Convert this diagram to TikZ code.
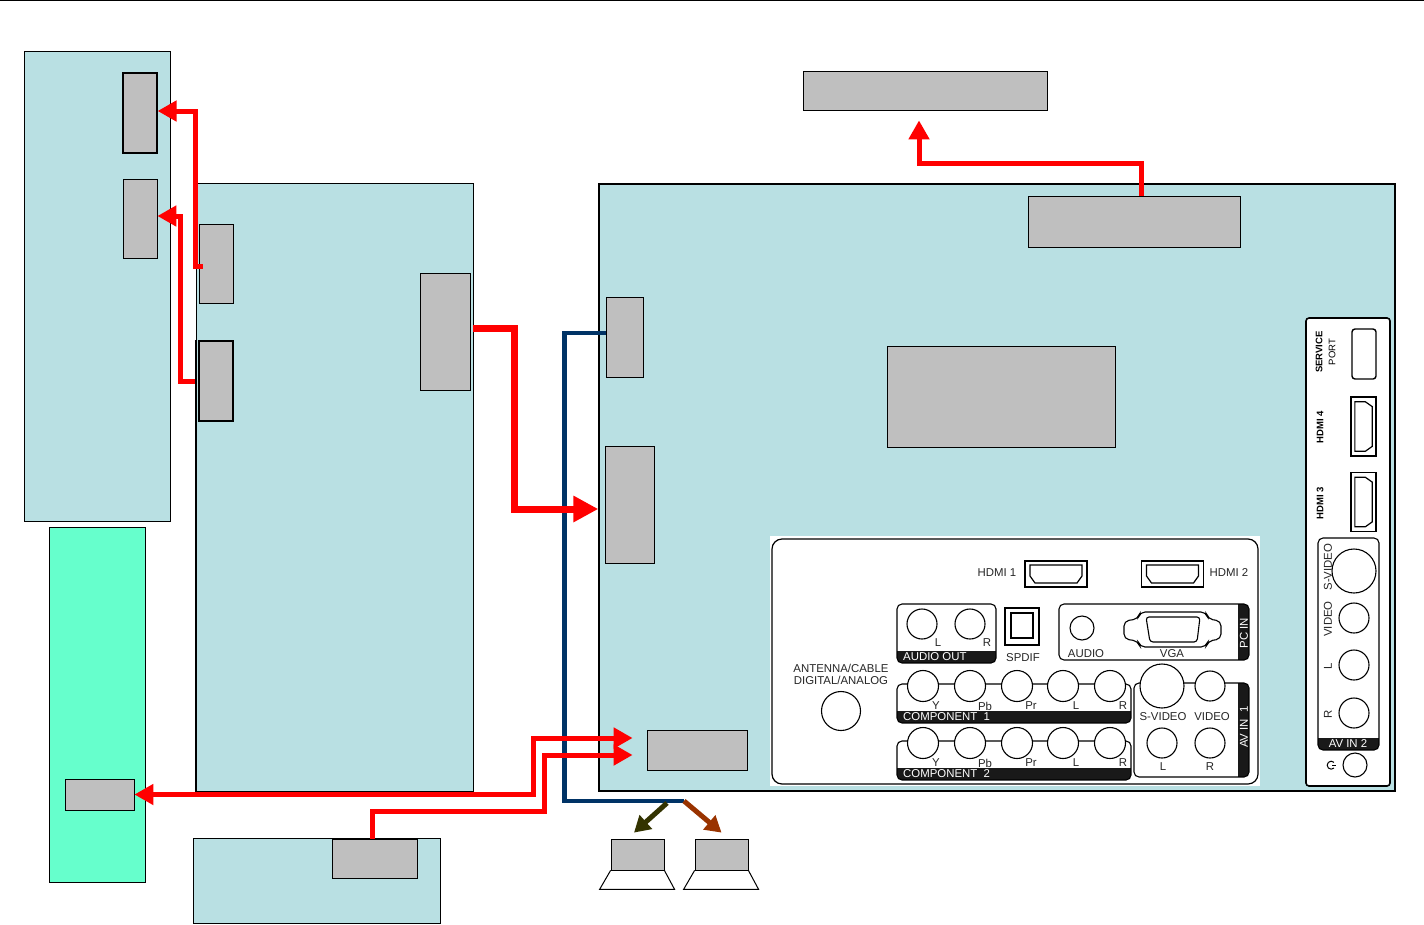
\documentclass[tikz,border=0pt]{standalone}
\usepackage{fontspec}
\setmainfont{Liberation Sans}
\usetikzlibrary{arrows.meta,positioning,calc}
\newcommand{\portbox}[6]{%
  \fill[white,rounded corners=5pt] (#1,#2) rectangle (#3,#4);
  \begin{scope}\clip[rounded corners=5pt] (#1,#2) rectangle (#3,#4);\fill[black!90] (#5,#6) rectangle (#3,#4);\end{scope}
  \draw[black,line width=1.1pt,rounded corners=5pt] (#1,#2) rectangle (#3,#4);}
\begin{document}
\begin{tikzpicture}[x=1pt,y=-1pt,
  board/.style={draw=black,fill=boardblue,line width=.8pt,inner sep=0pt},
  chip/.style={draw=black,fill=chipgray,line width=.8pt,inner sep=0pt},
  jack/.style={draw=black,fill=white,circle,line width=1.1pt,inner sep=0pt},
  lbl/.style={font=\fontsize{11.4}{13}\selectfont,inner sep=0pt,text=black!85},
  inv/.style={font=\fontsize{11.4}{13}\selectfont,inner sep=0pt,text=white},
  tinybold/.style={font=\fontsize{9.5}{13}\selectfont\bfseries,inner sep=0pt,align=center,rotate=90},
  redwire/.style={draw=wirered,line width=5pt},
  headone/.style={-{Triangle[length=19pt,width=20pt]}},
  headtwo/.style={{Triangle[length=19pt,width=20pt]}-{Triangle[length=19pt,width=20pt]}},
  hdmi/.pic={\draw[line width=1.4pt,fill=white] (-31,-13) rectangle (31,13);
    \draw[line width=1.2pt] (-26,-9) -- (26,-9) -- (26,2) -- (21,9) -- (-21,9) -- (-26,2) -- cycle;}]
\definecolor{boardblue}{RGB}{185,224,227}
\definecolor{chipgray}{RGB}{191,191,191}
\definecolor{seagreen}{RGB}{102,255,204}
\definecolor{wirered}{RGB}{255,0,0}
\definecolor{navywire}{RGB}{0,51,102}
\definecolor{olivewire}{RGB}{51,51,0}
\definecolor{brownwire}{RGB}{153,51,0}
\useasboundingbox (0,0) rectangle (1424,924);
\draw[line width=2pt] (0,0) -- (1424,0);
\node[board,minimum width=146pt,minimum height=470pt] (sideboard) at (97,286) {};
\node[board,minimum width=277pt,minimum height=608pt] (midboard) at (334.5,487) {};
\node[board,line width=1.4pt,minimum width=796pt,minimum height=607pt] (mainboard) at (997,487.5) {};
\node[board,fill=seagreen,minimum width=96pt,minimum height=355pt] (greenboard) at (97,704.5) {};
\node[board,minimum width=247pt,minimum height=85pt] (lowboard) at (316.5,880.5) {};
\node[chip,line width=1.2pt,minimum width=34pt,minimum height=80pt] (sideA) at (140,113) {};
\node[chip,minimum width=34pt,minimum height=79pt] (sideB) at (140,218.5) {};
\node[chip,minimum width=34pt,minimum height=79pt] (midA) at (216,263.5) {};
\node[chip,line width=1.2pt,minimum width=34pt,minimum height=80pt] (midB) at (216,381) {};
\node[chip,minimum width=50pt,minimum height=117pt] (midC) at (445,331.5) {};
\node[chip,minimum width=244pt,minimum height=39pt] (topchip) at (925,90.5) {};
\node[chip,minimum width=212pt,minimum height=51pt] (mainA) at (1134,221.5) {};
\node[chip,minimum width=37pt,minimum height=80pt] (mainB) at (624.5,337) {};
\node[chip,minimum width=49pt,minimum height=117pt] (mainC) at (629.5,504.5) {};
\node[chip,minimum width=228pt,minimum height=101pt] (mainD) at (1001,396.5) {};
\node[chip,minimum width=100pt,minimum height=40pt] (mainE) at (697,750) {};
\node[chip,minimum width=69pt,minimum height=31pt] (greenchip) at (99.5,794.5) {};
\node[chip,minimum width=85pt,minimum height=39pt] (lowchip) at (374.5,858.5) {};
\node[chip,minimum width=53pt,minimum height=31pt] (spkA) at (637.5,854.5) {};
\node[chip,minimum width=53pt,minimum height=31pt] (spkB) at (721.5,854.5) {};
\draw[line width=1.5pt] (midboard.west |- midB.north) -- (midboard.south west) -- (midboard.south east);
\draw[line width=1pt] (spkA.south west) -- ++(-11,19) -- ++(75,0) -- (spkA.south east);
\draw[line width=1pt] (spkB.south west) -- ++(-11,19) -- ++(75,0) -- (spkB.south east);
% rear panel
\fill[white] (770,536) rectangle (1260,786);
\draw[line width=1.2pt,rounded corners=10pt] (772,539) rectangle (1258,784);
\node[lbl] (hdmiAtxt) at (997,573) {HDMI 1};
\node[lbl] (hdmiBtxt) at (1229,573) {HDMI 2};
\pic at (1056,574) {hdmi};
\pic at (1172.5,574) {hdmi};
\portbox{897}{604}{996}{663}{897}{651}
\node[jack,minimum size=30pt] (aoL) at (922,624) {};
\node[jack,minimum size=30pt] (aoR) at (970,624) {};
\node[lbl] (aoLt) at (938,643) {L};
\node[lbl] (aoRt) at (987,643) {R};
\node[inv,anchor=west] (aotxt) at (903,657) {AUDIO OUT};
\node[draw,line width=1.6pt,minimum width=34pt,minimum height=37pt,inner sep=0pt] (spdif) at (1022,626.5) {};
\node[draw,line width=1.2pt,minimum width=22pt,minimum height=25pt,inner sep=0pt] (spdifin) at (1022,625.5) {};
\node[lbl] (spdiftxt) at (1023,658) {SPDIF};
\portbox{1059}{604}{1249}{660}{1238}{604}
\node[jack,minimum size=24pt] (pcaudio) at (1082,628) {};
\node[lbl] (pcaudiot) at (1086,654) {AUDIO};
\node[lbl] (vgat) at (1172,654) {VGA};
\node[inv,rotate=90] (pcin) at (1244,633) {PC IN};
\draw[line width=1.1pt,rounded corners=5pt] (1140,612) -- (1206,612) -- (1208,619) -- (1221,621) -- (1221,639) -- (1208,641) -- (1206,647) -- (1140,647) -- (1138,641) -- (1124,639) -- (1124,621) -- (1138,619) -- cycle;
\draw[line width=1.1pt,rounded corners=3pt] (1146,617) -- (1200,617) -- (1197,642) -- (1150,642) -- cycle;
\node[lbl] (antA) at (841,668) {ANTENNA/CABLE};
\node[lbl] (antB) at (841,680) {DIGITAL/ANALOG};
\node[jack,minimum size=39pt] (ant) at (841,711) {};
\foreach \n/\yy in {1/686,2/743} {
  \portbox{897}{\yy-2}{1131}{\yy+37}{897}{\yy+25}
  \foreach \p/\px/\tx in {Y/923/936,Pb/970/985,Pr/1017/1031,L/1063/1076,R/1110/1123} {
    \node[jack,minimum size=31pt] (c\n\p) at (\px,\yy) {};
    \node[lbl] (t\n\p) at (\tx,\yy+20) {\p};
  }
  \node[inv,anchor=west] (comp\n) at (903,\yy+31) {COMPONENT\ \ \n};
}
\portbox{1134}{683}{1249}{777}{1238}{683}
\node[jack,minimum size=44pt] (avS) at (1162,686) {};
\node[jack,minimum size=30pt] (avV) at (1210,686) {};
\node[jack,minimum size=30pt] (avL) at (1162,743) {};
\node[jack,minimum size=30pt] (avR) at (1210,743) {};
\node[lbl] (avSt) at (1163,717) {S-VIDEO};
\node[lbl] (avVt) at (1212,717) {VIDEO};
\node[lbl] (avLt) at (1163,767) {L};
\node[lbl] (avRt) at (1210,767) {R};
\node[inv,rotate=90] (avin) at (1244,727) {AV IN\ \ 1};
% side panel
\draw[line width=1.6pt,fill=white,rounded corners=3pt] (1306,318) rectangle (1390,786);
\node[tinybold] (svc) at (1325.5,352) {SERVICE\\\mdseries PORT};
\node[draw,line width=1.4pt,rounded corners=3pt,minimum width=24pt,minimum height=50pt,inner sep=0pt] (svcport) at (1364,354) {};
\node[tinybold] (hdmiCtxt) at (1320,427) {HDMI 4};
\node[tinybold] (hdmiDtxt) at (1320,503) {HDMI 3};
\pic[rotate=90,xscale=.95,yscale=.96] at (1363.5,426.5) {hdmi};
\pic[rotate=90,xscale=.95,yscale=.96] at (1363.5,502) {hdmi};
\portbox{1318}{538}{1379}{750}{1318}{738}
\node[jack,minimum size=44pt] (sdS) at (1354,571) {};
\node[jack,minimum size=30pt] (sdV) at (1354,618) {};
\node[jack,minimum size=30pt] (sdL) at (1354,665) {};
\node[jack,minimum size=30pt] (sdR) at (1354,713) {};
\node[lbl,rotate=90] (sdSt) at (1328,567) {S-VIDEO};
\node[lbl,rotate=90] (sdVt) at (1328,619) {VIDEO};
\node[lbl,rotate=90] (sdLt) at (1328,666) {L};
\node[lbl,rotate=90] (sdRt) at (1328,714) {R};
\node[inv] (sdin) at (1348,744) {AV IN 2};
\node[jack,minimum size=24pt] (phone) at (1355,765) {};
\draw[line width=1pt] (1334,768) arc (45:315:4);
\draw[line width=1pt] (1332,765) -- (1336,765);
% connectors
\coordinate (split) at (684,801);
\draw[draw=navywire,line width=4.5pt] ([yshift=4pt]mainB.west) -- ++(-41,0) |- (split);
\draw[draw=olivewire,line width=5pt,-{Triangle[length=16pt,width=18pt]}] ([xshift=-17pt,yshift=-2pt]split) -- ([xshift=-3.5pt,yshift=6pt]spkA.north);
\draw[draw=brownwire,line width=5pt,-{Triangle[length=16pt,width=18pt]}] (split) -- ([yshift=6pt]spkB.north);
\draw[redwire,headone] ([xshift=7pt]mainA.north) -- ++(0,-32) -| ([xshift=-6pt,yshift=-10pt]topchip.south);
\draw[redwire,headone] ([xshift=4pt,yshift=-2.5pt]midA.west) -- ++(-7,0) |- ([yshift=2pt]sideA.east);
\draw[redwire,headone] ([xshift=-3pt]midB.west) -- ++(-15,0) |- ([yshift=2.5pt]sideB.east);
\draw[draw=wirered,line width=7pt,-{Triangle[length=25pt,width=25pt]}] ([xshift=3pt,yshift=3.5pt]midC.east) -- ++(41,0) |- ([yshift=-4.5pt]mainC.west -| mainboard.west);
\draw[redwire,headtwo] (greenchip.east) -- ++(399,0) |- ([xshift=-14pt,yshift=12pt]mainE.west);
\draw[redwire,headone] ([xshift=-2.5pt]lowchip.north) -- ++(0,-27) -- ++(172,0) |- ([xshift=-14pt,yshift=-5pt]mainE.west);
\end{tikzpicture}
\end{document}
